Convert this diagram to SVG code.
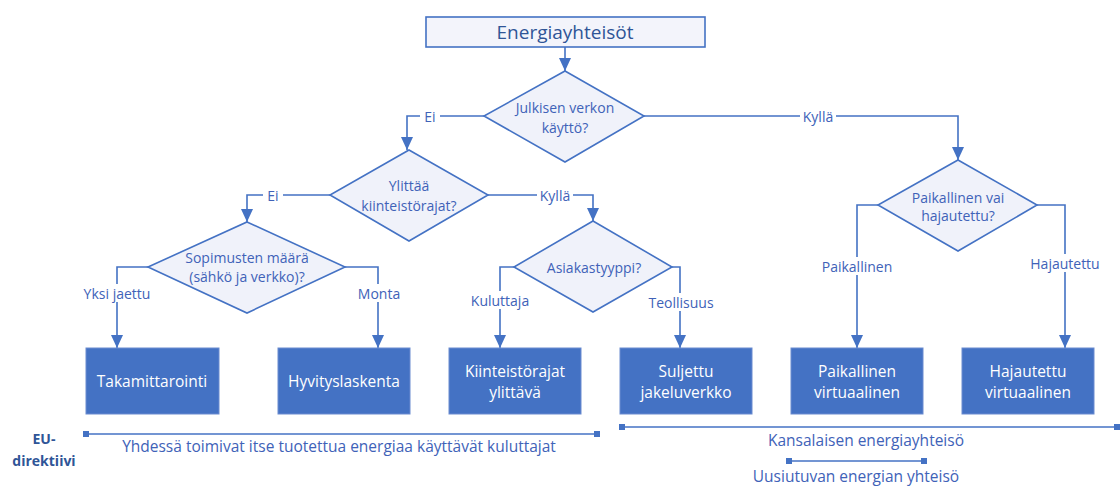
<svg xmlns="http://www.w3.org/2000/svg" width="1120" height="486" viewBox="0 0 1120 486">
<style>
.dia{fill:#f0f2fa;stroke:#4472c4;stroke-width:1.6}
.box{fill:#4472c4;stroke:#6a8bd0;stroke-width:1}
.top{fill:#f3f4fb;stroke:#4472c4;stroke-width:1.6}
.t{font-family:"Open Sans","Noto Sans",sans-serif;font-size:14px;fill:#4062b8;text-anchor:middle;dominant-baseline:central}
.r{font-family:"Open Sans","Noto Sans",sans-serif;font-size:15.5px;fill:#4062b8;text-anchor:middle;dominant-baseline:central}
.w{font-family:"Open Sans","Noto Sans",sans-serif;font-size:15.5px;fill:#ffffff;text-anchor:middle;dominant-baseline:central}
.ttl{font-family:"Open Sans","Noto Sans",sans-serif;font-size:19px;fill:#2f5597;text-anchor:middle;dominant-baseline:central}
.eu{font-family:"Open Sans","Noto Sans",sans-serif;font-size:14px;font-weight:bold;fill:#2f5597;text-anchor:middle;dominant-baseline:central}
.c{fill:none;stroke:#4472c4;stroke-width:1.6}
.bg{fill:#ffffff}
.rng{stroke:#4472c4;stroke-width:1.6}
.end{fill:#4472c4}
</style>
<defs>
<marker id="arr" markerUnits="userSpaceOnUse" markerWidth="14" markerHeight="12" refX="13" refY="6" orient="auto" viewBox="0 0 14 12">
<path d="M0,0 L13,6 L0,12 Z" fill="#4472c4"/>
</marker>
</defs>

<g id="connectors">
<path class="c" d="M565,47 V71" marker-end="url(#arr)"/>
<path class="c" d="M484,116 H407 V150" marker-end="url(#arr)"/>
<path class="c" d="M644,116 H958 V160" marker-end="url(#arr)"/>
<path class="c" d="M330,195 H247 V222" marker-end="url(#arr)"/>
<path class="c" d="M488,195 H593 V221" marker-end="url(#arr)"/>
<path class="c" d="M148,267 H117 V348" marker-end="url(#arr)"/>
<path class="c" d="M345,267 H378 V348" marker-end="url(#arr)"/>
<path class="c" d="M514,267 H500 V348" marker-end="url(#arr)"/>
<path class="c" d="M672,267 H680 V348" marker-end="url(#arr)"/>
<path class="c" d="M878,205 H857 V348" marker-end="url(#arr)"/>
<path class="c" d="M1037,205 H1065 V348" marker-end="url(#arr)"/>
<rect class="bg" x="420" y="108" width="20" height="16"/>
<text class="t" x="430" y="116">Ei</text>
<rect class="bg" x="800" y="108" width="36" height="16"/>
<text class="t" x="818" y="116">Kyllä</text>
<rect class="bg" x="263" y="187" width="20" height="16"/>
<text class="t" x="273" y="195">Ei</text>
<rect class="bg" x="537" y="187" width="36" height="16"/>
<text class="t" x="555" y="195">Kyllä</text>
<rect class="bg" x="80" y="284" width="74" height="18"/>
<text class="t" x="117" y="293">Yksi jaettu</text>
<rect class="bg" x="356" y="284" width="46" height="18"/>
<text class="t" x="379" y="293">Monta</text>
<rect class="bg" x="468" y="291" width="64" height="18"/>
<text class="t" x="500" y="300">Kuluttaja</text>
<rect class="bg" x="645" y="293" width="72" height="18"/>
<text class="t" x="681" y="302">Teollisuus</text>
<rect class="bg" x="818" y="257" width="78" height="18"/>
<text class="t" x="857" y="266">Paikallinen</text>
<rect class="bg" x="1028" y="254" width="74" height="18"/>
<text class="t" x="1065" y="263">Hajautettu</text>
</g>

<g id="n-top">
<rect class="top" x="426" y="17" width="279" height="30"/>
<text class="ttl" x="565" y="32">Energiayhteisöt</text>
</g>
<g id="n-d1">
<polygon class="dia" points="565,71 644,116 565,162 484,116"/>
<text class="t" x="565" y="107">Julkisen verkon</text>
<text class="t" x="565" y="127">käyttö?</text>
</g>
<g id="n-d2">
<polygon class="dia" points="409,150 488,195 409,241 330,195"/>
<text class="t" x="409" y="185">Ylittää</text>
<text class="t" x="409" y="205">kiinteistörajat?</text>
</g>
<g id="n-d3">
<polygon class="dia" points="247,222 345,267 247,313 148,267"/>
<text class="t" x="247" y="257">Sopimusten määrä</text>
<text class="t" x="247" y="276">(sähkö ja verkko)?</text>
</g>
<g id="n-d5">
<polygon class="dia" points="593,221 672,267 593,312 514,267"/>
<text class="t" x="594" y="267">Asiakastyyppi?</text>
</g>
<g id="n-d4">
<polygon class="dia" points="958,160 1037,205 958,251 878,205"/>
<text class="t" x="958" y="197">Paikallinen vai</text>
<text class="t" x="958" y="215">hajautettu?</text>
</g>

<g id="n-b1">
<rect class="box" x="86" y="348" width="133" height="66"/>
<text class="w" x="152" y="381">Takamittarointi</text>
</g>
<g id="n-b2">
<rect class="box" x="278" y="348" width="132" height="66"/>
<text class="w" x="344" y="381">Hyvityslaskenta</text>
</g>
<g id="n-b3">
<rect class="box" x="449" y="348" width="132" height="66"/>
<text class="w" x="515" y="371">Kiinteistörajat</text>
<text class="w" x="515" y="392">ylittävä</text>
</g>
<g id="n-b4">
<rect class="box" x="620" y="348" width="132" height="66"/>
<text class="w" x="686" y="371">Suljettu</text>
<text class="w" x="686" y="392">jakeluverkko</text>
</g>
<g id="n-b5">
<rect class="box" x="791" y="348" width="132" height="66"/>
<text class="w" x="857" y="371">Paikallinen</text>
<text class="w" x="857" y="392">virtuaalinen</text>
</g>
<g id="n-b6">
<rect class="box" x="962" y="348" width="132" height="66"/>
<text class="w" x="1028" y="371">Hajautettu</text>
<text class="w" x="1028" y="392">virtuaalinen</text>
</g>

<g id="ranges">
<text class="eu" x="44" y="438">EU-</text>
<text class="eu" x="44" y="460">direktiivi</text>
<line class="rng" x1="86" y1="434" x2="597" y2="434"/>
<rect class="end" x="83" y="431" width="6" height="6"/>
<rect class="end" x="594" y="431" width="6" height="6"/>
<text class="r" x="339" y="446">Yhdessä toimivat itse tuotettua energiaa käyttävät kuluttajat</text>
<line class="rng" x1="622" y1="427" x2="1117" y2="427"/>
<rect class="end" x="619" y="424" width="6" height="6"/>
<rect class="end" x="1114" y="424" width="6" height="6"/>
<text class="r" x="866" y="440">Kansalaisen energiayhteisö</text>
<line class="rng" x1="789" y1="461" x2="924" y2="461"/>
<rect class="end" x="786" y="458" width="6" height="6"/>
<rect class="end" x="921" y="458" width="6" height="6"/>
<text class="r" x="856" y="476">Uusiutuvan energian yhteisö</text>
</g>
</svg>
